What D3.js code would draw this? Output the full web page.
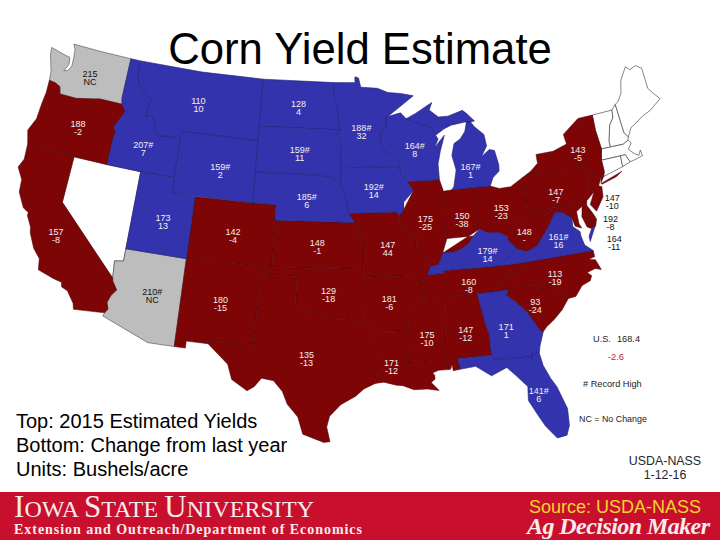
<!DOCTYPE html>
<html>
<head>
<meta charset="utf-8">
<script src="https://cdn.jsdelivr.net/npm/d3@7"></script>
<style>
html, body { margin:0; padding:0; background:#fff; }
svg { display:block; }
text { font-family:"Liberation Sans", Arial, sans-serif; }
.serif { font-family:"Liberation Serif", "Times New Roman", serif; }
</style>
</head>
<body>
<svg id="map" width="720" height="540"></svg>
<script>
// yields and change from last year
const states  = ["WA","OR","CA","ID","MT","WY","UT","CO","AZ","NM","ND","SD","NE","KS","OK","TX","MN","IA","MO","AR","LA","WI","IL","MI","IN","OH","KY","TN","MS","AL","GA","FL","SC","NC","VA","WV","PA","NY","NJ","DE","MD"];
const yields  = ["215","188","157","207#","110","159#","173","142","210#","180","128","159#","185#","148","129","135","188#","192#","147","181","171","164#","175","167#","150","153","179#","160","175","147","171","141#","93","113","161#","148","147","143","147","192","164"];
const changes = ["NC","-2","-8","7","10","2","13","-4","NC","-15","4","11","6","-1","-18","-13","32","14","44","-6","-12","8","-25","1","-38","-23","14","-8","-10","-12","1","6","-24","-19","16","-","-7","-5","-10","-8","-11"];
// label anchors, lon / lat
const labelLon = [-120.4,-120.3,-119.8,-114.2,-109.9,-107.15,-111.4,-105.45,-111.3,-105.9,-100.5,-100.2,-99.4,-98.4,-97.4,-99,-94.6,-93.6,-92.55,-92.6,-92.6,-89.8,-89.3,-85,-86.2,-82.8,-84.4,-86.2,-89.8,-86.8,-83.7,-81.95,-81.2,-79.3,-78.5,-81.2,-78,-75.4,-73.45,-74,-74.07];
const labelLat = [47.15,43.86,36.8,43.44,46.82,42.8,39.08,38.76,34.3,34.37,47.3,44.31,41.34,38.45,35.36,31.24,45.8,42,38.3,34.8,30.7,44.49,39.78,42.81,39.77,40,37.41,35.55,32.4,32.53,32.43,28.07,33.72,35.29,37.55,38.25,40.44,42.77,39.3,38,36.75];

const redStates  = ["OR","CA","CO","NM","KS","OK","TX","MO","AR","LA","IL","IN","OH","TN","MS","AL","SC","NC","WV","PA","NY","NJ","DE","MD"];
const blueStates = ["ID","MT","WY","UT","ND","SD","NE","MN","IA","WI","MI","KY","GA","FL","VA"];
const grayStates = ["WA","AZ"];
const blankStates = ["NV","VT","NH","ME","MA","CT","RI"];

const usTotal = ["U.S.","168.4","-2.6"];
const notes = ["# Record High","NC = No Change"];
const keyLines = ["Top: 2015 Estimated Yields","Bottom: Change from last year","Units: Bushels/acre"];

// shared borders, lon / lat
const snake = [[-116.92,46],[-116.47,45.6],[-116.85,45],[-117.2,44.45],[-116.95,44.2],[-117.03,43.8],[-117.03,42]];
const bitterroot = [[-116.05,48],[-115.7,47.45],[-114.95,47],[-114.35,46.65],[-114.55,45.55],[-113.9,45.65],[-113.45,45.05],[-113.45,44.75],[-113,44.45],[-112.3,44.55],[-111.5,44.55],[-111.05,44.48]];
const colorado = [[-114.63,35],[-114.57,34.8],[-114.14,34.3],[-114.5,33.9],[-114.7,33.4],[-114.52,33],[-114.72,32.72]];
const columbia = [[-124,46.3],[-123.4,46.25],[-122.9,46.1],[-122.7,45.65],[-121.2,45.65],[-119.5,45.92],[-119,46],[-116.92,46]];
const redRiverN = [[-97.23,49],[-97.1,48],[-96.85,47.5],[-96.8,46.9],[-96.56,45.94]];
const sdEast = [[-96.56,45.94],[-96.85,45.6],[-96.45,45.3],[-96.45,43.5]];
const missouriUp = [[-104.05,43],[-98.5,43],[-97.2,42.85],[-96.45,42.49]];
const missouriLow = [[-96.45,42.49],[-96.1,41.7],[-95.9,41.2],[-95.77,40.58],[-95.3,40],[-94.9,39.8],[-95.1,39.5],[-94.61,39.1]];
const redRiverS = [[-100,34.56],[-99.2,34.3],[-98.1,34.1],[-97.2,33.85],[-96.5,33.8],[-95.5,33.88],[-94.48,33.64]];
const sabine = [[-94.04,31.99],[-93.55,31.2],[-93.7,30.5],[-93.85,29.7]];
const mississippiUp = [[-92.75,44.75],[-91.25,43.85],[-91.22,43.5],[-91.15,43],[-90.64,42.5],[-90.15,41.9],[-91.05,41.2],[-91.1,40.7],[-91.42,40.38]];
const mississippiMid = [[-91.42,40.38],[-91.5,40],[-90.7,39],[-90.15,38.8],[-90.2,38.4],[-89.5,37.3],[-89.15,37]];
const mississippiLow = [[-89.7,36],[-90.1,35],[-90.6,34.6],[-91.1,33.9],[-91.17,33]];
const ohioRiver = [[-82.6,38.4],[-83.2,38.7],[-84.2,38.8],[-84.8,39.1],[-85.4,38.7],[-85.8,38.27],[-86.5,37.95],[-87.1,37.8],[-88.05,37.8]];
const ohioUpper = [[-80.52,40.64],[-80.85,39.7],[-81.7,39.2],[-82.2,38.6],[-82.6,38.4]];
const wabash = [[-88.05,37.8],[-87.6,38.7],[-87.53,39.35],[-87.53,41.72]];
const savannah = [[-83.1,35],[-83.35,34.7],[-82.8,34.3],[-81.95,33.5],[-81.4,32.6],[-81.1,32.1],[-80.9,32.03]];
const ncSc = [[-83.1,35],[-82.3,35.2],[-81.05,35.15],[-80.8,34.82],[-79.67,34.8],[-78.55,33.86]];
const ncTn = [[-81.68,36.59],[-82,36.1],[-82.6,36.05],[-83.1,35.75],[-84,35.4],[-84.32,35]];
const alGa = [[-85.6,35],[-85.18,32.87],[-85,32.3],[-85.05,31.55],[-85,31]];
const kyVa = [[-83.68,36.6],[-83.1,36.85],[-82.3,37.3],[-81.97,37.54]];
const vaWv = [[-81.97,37.54],[-81.2,37.25],[-80.3,37.5],[-79.3,38.4],[-78.9,38.8],[-78.35,39.4],[-77.72,39.32]];
const nyNj = [[-75.35,42],[-74.7,41.36],[-73.9,41]];
const pennNj = [[-74.7,41.36],[-75.1,41],[-75.2,40.65],[-74.75,40.2],[-75.4,39.8]];
const vtNh = [[-71.5,45],[-71.6,44.5],[-72.05,44.1],[-72.45,43.1],[-72.46,42.73]];

const rev = a => a.slice().reverse();

// each state is a list of rings
const outlines = {
  WA: [[[-117.03,49],[-120,49],[-122.75,49],[-122.5,48.7],[-122.4,48.2],[-122.35,47.6],[-122.6,47.25],[-122.95,47.15],[-122.65,47.65],[-122.75,48.1],[-123.2,48.15],[-124.7,48.38],[-124.6,47.9],[-124.1,46.9],...columbia,[-117.04,46.4]]],
  OR: [[...columbia,...snake.slice(1),[-120,42],[-124.2,42],[-124.55,42.84],[-124.1,43.7],[-124.05,44.7],[-123.95,45.5]]],
  CA: [[[-124.2,42],[-120,42],[-120,39],...colorado,[-117.12,32.53],[-117.25,32.9],[-117.9,33.6],[-118.4,33.75],[-118.5,34.03],[-119.2,34.15],[-120.5,34.45],[-120.65,35.15],[-121.3,35.7],[-121.9,36.6],[-122,36.95],[-122.5,37.6],[-122.5,37.8],[-123,38],[-123.7,38.9],[-123.8,39.7],[-124.4,40.4],[-124.1,41]]],
  NV: [[[-120,42],[-114.04,42],[-114.04,36.2],[-114.75,36.1],[-114.63,35],[-120,39]]],
  ID: [[[-117.03,49],[-116.05,49],...bitterroot,[-111.05,42],[-114.04,42],...rev(snake),[-117.04,46.4]]],
  MT: [[[-116.05,49],[-110,49],[-104.05,49],[-104.05,45.94],[-104.05,45],[-111.05,45],...rev(bitterroot)]],
  WY: [[[-111.05,45],[-104.05,45],[-104.05,43],[-104.05,41],[-111.05,41]]],
  UT: [[[-114.04,42],[-111.05,42],[-111.05,41],[-109.05,41],[-109.05,37],[-114.04,37]]],
  CO: [[[-109.05,41],[-104.05,41],[-102.05,41],[-102.05,40],[-102.05,37],[-103,37],[-109.05,37]]],
  AZ: [[[-114.04,37],[-109.05,37],[-109.05,31.33],[-111.07,31.33],[-114.81,32.5],...rev(colorado),[-114.75,36.1],[-114.04,36.2]]],
  NM: [[[-109.05,37],[-103,37],[-103,36.5],[-103.04,32],[-106.62,32],[-106.53,31.78],[-108.2,31.78],[-108.2,31.33],[-109.05,31.33]]],
  ND: [[[-104.05,49],...redRiverN,[-104.05,45.94]]],
  SD: [[[-104.05,45.94],...sdEast,...rev(missouriUp)]],
  NE: [[...missouriUp,...missouriLow.slice(1,5),[-102.05,40],[-102.05,41],[-104.05,41]]],
  KS: [[[-102.05,40],...missouriLow.slice(4),[-94.62,37],[-102.05,37]]],
  OK: [[[-103,37],[-102.05,37],[-94.62,37],[-94.62,36.5],[-94.43,35.4],...rev(redRiverS),[-100,36.5],[-103,36.5]]],
  TX: [[[-103,36.5],[-100,36.5],...redRiverS,[-94.04,33.55],[-94.04,33.02],...sabine,[-94.7,29.35],[-95.3,28.9],[-96.4,28.35],[-97.2,27.6],[-97.4,26.9],[-97.15,25.95],[-97.6,25.9],[-99.1,26.4],[-99.5,27.5],[-100.3,28.3],[-100.7,29.1],[-101.4,29.77],[-102.3,29.88],[-102.8,29.3],[-103.3,29],[-104.5,29.65],[-104.9,30.6],[-106.53,31.78],[-106.62,32],[-103.04,32]]],
  MN: [[[-97.23,49],[-95.15,49],[-95.15,49.38],[-94.8,49.3],[-94.6,48.7],[-93,48.6],[-92,48.3],[-90.8,48.2],[-89.6,48],[-92.1,46.75],[-92.29,46.66],[-92.29,46.1],[-92.9,45.6],[-92.75,44.75],[-91.25,43.85],[-91.22,43.5],[-96.45,43.5],...rev(sdEast).slice(1),...rev(redRiverN).slice(1)]],
  WI: [[[-92.1,46.75],[-90.9,46.95],[-90.4,46.55],[-89.1,46.14],[-88.1,45.9],[-87.8,45.35],[-87.6,45.1],[-88,44.55],[-87,45.3],[-87.5,44.3],[-87.8,43.5],[-87.8,42.49],[-90.64,42.5],[-91.15,43],[-91.22,43.5],[-91.25,43.85],[-92.75,44.75],[-92.9,45.6],[-92.29,46.1],[-92.29,46.66]]],
  IA: [[[-96.45,43.5],[-91.22,43.5],...mississippiUp.slice(3),[-91.73,40.61],[-95.77,40.58],[-95.9,41.2],[-96.1,41.7],[-96.45,42.49]]],
  MO: [[[-95.77,40.58],[-91.73,40.61],...mississippiMid,[-89.4,36.5],[-89.7,36],[-90.37,36],[-90.15,36.5],[-94.62,36.5],[-94.62,37],...rev(missouriLow).slice(0,4)]],
  AR: [[[-94.62,36.5],[-90.15,36.5],[-90.37,36],...mississippiLow,[-94.04,33.02],[-94.04,33.55],[-94.48,33.64],[-94.43,35.4]]],
  LA: [[[-94.04,33.02],[-91.17,33],[-91.1,32.3],[-91.6,31],[-89.73,31],[-89.75,30.6],[-89.55,30.2],[-89.4,30.05],[-89.4,29.8],[-89.7,29.6],[-89.15,29.05],[-90,29.2],[-91,29.2],[-91.8,29.5],[-92.3,29.55],[-93.2,29.77],...rev(sabine)]],
  MS: [[[-91.17,33],...rev(mississippiLow).slice(1,4),[-88.2,35],[-88.1,34.9],[-88.47,31.9],[-88.4,30.35],[-89.1,30.35],[-89.55,30.2],[-89.75,30.6],[-89.73,31],[-91.6,31],[-91.1,32.3]]],
  AL: [[[-88.2,35],...alGa,[-87.6,31],[-87.45,30.4],[-87.5,30.3],[-88,30.25],[-88.05,30.65],[-88.2,30.35],[-88.4,30.35],[-88.47,31.9],[-88.1,34.9]]],
  FL: [[[-87.6,31],[-85,31],[-84.86,30.7],[-82.2,30.57],[-82.05,30.35],[-82,30.75],[-81.45,30.72],[-81.3,29.9],[-80.9,29],[-80.55,28.4],[-80.05,26.9],[-80.12,25.8],[-80.4,25.2],[-81.1,25.12],[-81.8,26],[-82.2,26.75],[-82.75,27.8],[-82.65,28.7],[-83.4,29.5],[-84,30.1],[-85.2,29.68],[-86.3,30.4],[-87.5,30.3],[-87.45,30.4]]],
  GA: [[[-85.6,35],...savannah,[-81.3,31.2],[-81.45,30.72],[-82,30.75],[-82.05,30.35],[-82.2,30.57],[-84.86,30.7],...rev(alGa).slice(0,4)]],
  SC: [[...ncSc,[-79.2,33.2],[-79.9,32.7],[-80.6,32.3],...rev(savannah)]],
  NC: [[[-84.32,35],...ncSc,[-77.95,33.9],[-77.3,34.5],[-76.6,34.7],[-76.4,35],[-76.7,35.25],[-76,35.4],[-75.55,35.25],[-75.85,35.95],[-76.4,36.05],[-75.85,36.15],[-75.87,36.55],...ncTn]],
  TN: [[[-90.1,35],[-88.2,35],[-85.6,35],[-84.32,35],...rev(ncTn).slice(1),[-83.68,36.6],[-88.07,36.68],[-88.07,36.5],[-89.4,36.5],[-89.7,36]]],
  KY: [[[-89.4,36.5],[-88.07,36.5],[-88.07,36.68],...kyVa,[-82.6,38.17],...ohioRiver,[-88.45,37.1],[-89.15,37]]],
  IN: [[[-87.53,41.72],[-87.2,41.75],[-86.82,41.76],[-84.82,41.76],[-84.8,39.1],...rev(ohioRiver).slice(0,5),...wabash.slice(1,3)]],
  IL: [[[-90.64,42.5],[-87.8,42.49],[-87.53,41.72],...rev(wabash).slice(1),[-88.45,37.1],[-89.15,37],...rev(mississippiMid).slice(1),...mississippiUp.slice(6,8),[-90.15,41.9]]],
  OH: [[[-84.8,39.1],[-84.82,41.76],[-83.45,41.73],[-82.7,41.5],[-81.7,41.5],[-80.52,41.98],...ohioUpper,[-83.2,38.7],[-84.2,38.8]]],
  MI: [
    [[-86.82,41.76],[-84.82,41.76],[-83.45,41.73],[-83.1,42.25],[-82.5,42.6],[-82.45,43],[-82.65,43.95],[-83.1,44.05],[-83.9,43.65],[-83.3,44.3],[-83.4,45.05],[-84.2,45.65],[-84.5,46],[-84.85,46],[-85.1,45.4],[-85.6,44.95],[-86.2,44.7],[-86.5,43.95],[-86.25,43],[-86.6,41.95]],
    [[-90.4,46.55],[-89.1,46.14],[-88.1,45.9],[-87.8,45.35],[-87,45.7],[-86.3,45.9],[-85,46],[-84.7,45.95],[-84.1,46],[-84.7,46.5],[-85.1,46.77],[-86.5,46.5],[-87.4,46.5],[-88.2,47],[-87.9,47.47],[-89.5,46.85]]
  ],
  WV: [[...rev(ohioUpper),[-80.52,39.72],[-79.48,39.72],[-79.48,39.2],[-78.9,39.4],[-78.35,39.65],...rev(vaWv),[-82.6,38.17]]],
  VA: [
    [[-83.68,36.6],[-81.68,36.59],[-75.87,36.55],[-76.45,37],[-76.6,37.6],[-76.6,37.9],[-77.1,38.3],[-77.05,38.85],[-77.72,39.32],...rev(vaWv).slice(1),...rev(kyVa).slice(1)],
    [[-75.6,37.95],[-75.3,38.03],[-75.95,37.15],[-75.95,37.5]]
  ],
  MD: [[[-79.48,39.72],[-75.79,39.72],[-75.7,38.46],[-75.05,38.45],[-75.25,38.03],[-75.65,37.95],[-75.95,38.1],[-76.2,38.8],[-76,39.45],[-76.55,39.2],[-76.55,38.4],[-76.4,38.1],[-76.9,38.3],[-77.05,38.85],[-77.72,39.32],[-78.35,39.65],[-78.9,39.4],[-79.48,39.2]]],
  DE: [[[-75.79,39.72],[-75.5,39.8],[-75.6,39.45],[-75.2,38.8],[-75.05,38.45],[-75.7,38.46]]],
  PA: [[[-80.52,41.98],[-79.76,42.27],[-79.76,42],...nyNj.slice(0,2),...pennNj.slice(1),[-75.79,39.72],[-79.48,39.72],[-80.52,39.72],[-80.52,40.64]]],
  NJ: [[[-74.7,41.36],[-73.9,41],[-74.25,40.5],[-74,40.4],[-74.1,39.75],[-74.9,38.95],[-75.3,39.45],...rev(pennNj).slice(1,4)]],
  NY: [
    [[-79.76,42.27],[-79.76,42],...nyNj,[-74,40.65],[-73.65,41],[-73.5,41.3],[-73.5,42.05],[-73.27,42.75],[-73.4,44],[-73.35,45],[-74.7,45],[-76.3,44.2],[-76.2,43.55],[-77.5,43.27],[-79.05,43.27],[-79.05,42.7]],
    [[-74.03,40.6],[-72,41.05],[-72.6,40.8],[-73.9,40.55]]
  ],
  VT: [[[-73.35,45],...vtNh,[-73.27,42.75],[-73.4,44]]],
  NH: [[[-71.5,45],[-71.08,45.3],[-70.98,43.4],[-70.7,43.07],[-70.82,42.87],[-71.3,42.7],...rev(vtNh)]],
  ME: [[[-71.08,45.3],[-70.8,45.4],[-70.3,45.9],[-70,46.7],[-69.23,47.46],[-68.9,47.2],[-68.3,47.35],[-67.8,47.07],[-67.8,45.7],[-67.45,45.3],[-67,44.85],[-68.2,44.3],[-69,44.1],[-69.8,43.75],[-70.25,43.6],[-70.7,43.07],[-70.98,43.4]]],
  MA: [[[-73.27,42.75],[-72.46,42.73],[-71.3,42.7],[-70.82,42.87],[-70.6,42.65],[-71,42.3],[-70.6,41.95],[-70.25,41.75],[-70,42.05],[-69.95,41.67],[-70.65,41.55],[-71.12,41.5],[-71.38,42.02],[-71.8,42.02],[-73.5,42.05]]],
  CT: [[[-73.5,42.05],[-71.8,42.02],[-71.85,41.32],[-73.65,41],[-73.5,41.3]]],
  RI: [[[-71.8,42.02],[-71.38,42.02],[-71.12,41.5],[-71.85,41.32]]]
};

let svg = d3.select("#map");

let projection = d3.geoConicEqualArea()
    .parallels([29.5, 45.5])
    .rotate([96, 0])
    .center([-0.6, 38.7])
    .scale(890)
    .translate([339, 243]);

let ringLine = d3.line().curve(d3.curveLinearClosed);
let statePath = k => outlines[k].map(r => ringLine(r.map(projection))).join("");

function drawStates(keys, fill, stroke, width){
    svg.append("g").selectAll("path")
        .data(keys)
        .enter()
        .append("path")
            .attr("d", statePath)
            .attr("fill", fill)
            .attr("stroke", stroke)
            .attr("stroke-width", width)
            .attr("stroke-linejoin", "round")
}

drawStates(blankStates, "#fff", "#333", 0.6)
drawStates(grayStates, "#bdbdbd", "#333", 0.5)
drawStates(redStates, "#7d0505", "#4a0208", 0.5)
drawStates(blueStates, "#3333ad", "#1c2070", 0.6)

// yield / change labels; the ones outside the map are black, gray states too
let isDark = d => grayStates.includes(d) || ["NJ","DE","MD"].includes(d);

let labels = svg.append("g").selectAll("text")
    .data(states)
    .enter()
    .append("text")
        .attr("transform", (d,i) => "translate(" + projection([labelLon[i], labelLat[i]]) + ")")
        .attr("text-anchor", "middle")
        .attr("font-size", 9)
        .attr("fill", d => isDark(d) ? "#111" : "#f6eeee")

labels.append("tspan").attr("x", 0).attr("y", -1).text((d,i) => yields[i])
labels.append("tspan").attr("x", 0).attr("y", 7).text((d,i) => changes[i])

// title
svg.append("text")
    .attr("x", 360).attr("y", 64)
    .attr("text-anchor", "middle")
    .attr("font-size", 43.7)
    .attr("fill", "#000")
    .text("Corn Yield Estimate")

// key, bottom left
svg.append("g").selectAll("text")
    .data(keyLines)
    .enter()
    .append("text")
        .attr("x", 16)
        .attr("y", (d,i) => 428 + i*24)
        .attr("font-size", 20)
        .attr("fill", "#000")
        .text(d => d)

// U.S. total and notes
svg.append("text").attr("x", 593).attr("y", 342).attr("font-size", 9.2).attr("fill", "#222").text(usTotal[0])
svg.append("text").attr("x", 617).attr("y", 342).attr("font-size", 9.2).attr("fill", "#222").text(usTotal[1])
svg.append("text").attr("x", 608).attr("y", 360).attr("font-size", 9.2).attr("fill", "#c8202e").text(usTotal[2])
svg.append("text").attr("x", 583).attr("y", 387).attr("font-size", 9.2).attr("fill", "#222").text(notes[0])
svg.append("text").attr("x", 579).attr("y", 422).attr("font-size", 8.9).attr("fill", "#222").text(notes[1])

svg.append("text").attr("x", 665).attr("y", 465).attr("text-anchor", "middle").attr("font-size", 12.4).attr("fill", "#26262e").text("USDA-NASS")
svg.append("text").attr("x", 665).attr("y", 479).attr("text-anchor", "middle").attr("font-size", 12.4).attr("fill", "#26262e").text("1-12-16")

// banner
svg.append("rect").attr("x", 0).attr("y", 492).attr("width", 720).attr("height", 48).attr("fill", "#c8102e")

let isu = svg.append("text")
    .attr("class", "serif")
    .attr("x", 14).attr("y", 517)
    .attr("fill", "#f7eceb")
    .attr("textLength", 300)
    .attr("lengthAdjust", "spacing")
isu.append("tspan").attr("font-size", 31).text("I")
isu.append("tspan").attr("font-size", 24).text("OWA ")
isu.append("tspan").attr("font-size", 31).text("S")
isu.append("tspan").attr("font-size", 24).text("TATE ")
isu.append("tspan").attr("font-size", 31).text("U")
isu.append("tspan").attr("font-size", 24).text("NIVERSITY")

svg.append("text")
    .attr("class", "serif")
    .attr("x", 14).attr("y", 534)
    .attr("font-size", 14)
    .attr("font-weight", "bold")
    .attr("fill", "#f7eceb")
    .attr("textLength", 348)
    .attr("lengthAdjust", "spacing")
    .text("Extension and Outreach/Department of Economics")

svg.append("text")
    .attr("x", 529).attr("y", 513)
    .attr("font-size", 18)
    .attr("fill", "#f6d32d")
    .text("Source: USDA-NASS")

svg.append("text")
    .attr("class", "serif")
    .attr("x", 527).attr("y", 534)
    .attr("font-size", 24)
    .attr("font-weight", "bold")
    .attr("font-style", "italic")
    .attr("fill", "#f7eceb")
    .attr("textLength", 183)
    .attr("lengthAdjust", "spacing")
    .text("Ag Decision Maker")
</script>
</body>
</html>
